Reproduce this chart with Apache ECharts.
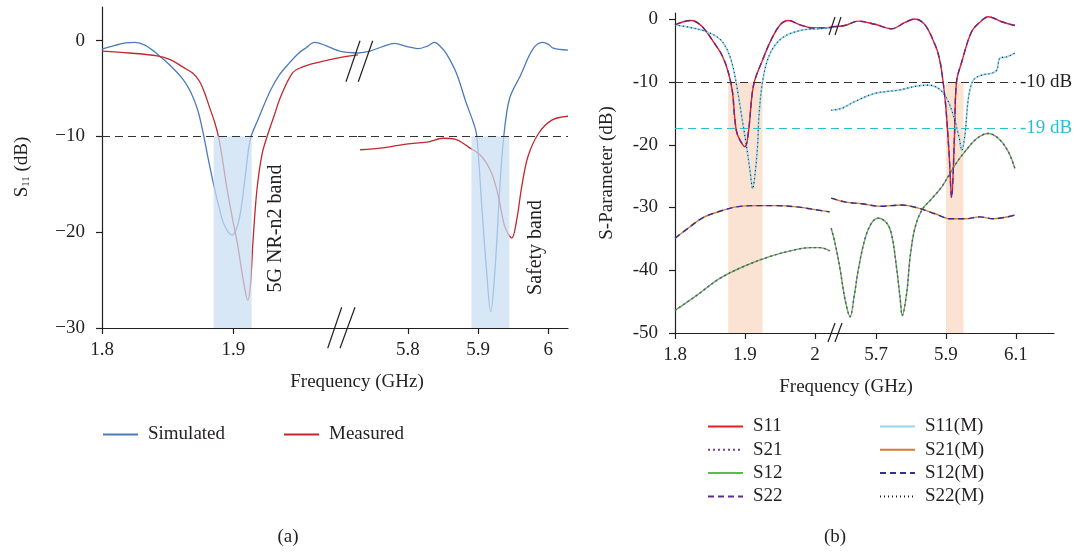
<!DOCTYPE html>
<html><head><meta charset="utf-8">
<script src="https://cdn.jsdelivr.net/npm/echarts@6/dist/echarts.min.js"></script>
<style>html,body{margin:0;padding:0;background:#fff}#c{width:1082px;height:552px}</style>
</head><body><div id="c"></div>
<script>
// ===== DATA (a): S11, x in GHz, y in dB =====
const simulatedLow = [[1.800,-0.9],[1.810,-0.5],[1.818,-0.25],[1.825,-0.2],[1.833,-0.5],[1.842,-1.4],[1.852,-2.6],[1.862,-4.1],[1.868,-5.5],[1.873,-7.3],[1.877,-9.6],[1.881,-12.4],[1.885,-15.0],[1.889,-17.3],[1.893,-19.2],[1.899,-20.3],[1.903,-19.4],[1.906,-17.5],[1.909,-14.3],[1.913,-10.3],[1.919,-8.2],[1.928,-5.3],[1.935,-3.6],[1.943,-2.3],[1.950,-1.3],[1.955,-0.8],[1.962,-0.2],[1.970,-0.5],[1.981,-1.1],[1.995,-1.3]];
const simulatedHigh = [[5.729,-1.3],[5.746,-1.1],[5.765,-0.6],[5.781,-0.3],[5.798,-0.6],[5.814,-0.85],[5.827,-0.6],[5.838,-0.2],[5.846,-0.6],[5.855,-1.4],[5.869,-3.4],[5.883,-6.5],[5.893,-8.5],[5.898,-9.9],[5.905,-17],[5.912,-24],[5.918,-28.3],[5.924,-24],[5.931,-15.2],[5.937,-9.7],[5.945,-6],[5.960,-3.7],[5.978,-0.9],[5.992,-0.2],[6.000,-0.4],[6.007,-0.8],[6.028,-1.0]];
const measuredLow = [[1.800,-1.1],[1.821,-1.3],[1.842,-1.6],[1.852,-2.0],[1.862,-2.8],[1.869,-3.4],[1.874,-4.2],[1.878,-5.4],[1.882,-7.0],[1.886,-8.6],[1.889,-10.2],[1.892,-12.6],[1.895,-15.3],[1.899,-18.3],[1.903,-21.1],[1.908,-25.3],[1.911,-27.1],[1.913,-25.6],[1.915,-21.0],[1.918,-15.6],[1.922,-11.8],[1.927,-9.5],[1.931,-7.9],[1.936,-5.9],[1.945,-3.4],[1.952,-2.8],[1.964,-2.3],[1.980,-1.8],[1.995,-1.5]];
const measuredHigh = [[5.732,-11.4],[5.764,-11.2],[5.798,-10.8],[5.827,-10.6],[5.850,-10.2],[5.867,-10.3],[5.886,-11.1],[5.905,-12.1],[5.919,-13.8],[5.929,-16.3],[5.938,-19.4],[5.948,-20.6],[5.955,-18.7],[5.962,-15.3],[5.971,-12.1],[5.986,-9.7],[6.005,-8.3],[6.028,-7.9]];
const bandsA = [[1.885,1.914],[5.8905,5.9446]];
const ticksA_low = [1.8,1.9];
const ticksA_high = [5.8,5.9,6.0];
const ticksA_y = [-30,-20,-10,0];

// ===== DATA (b): S-parameters =====
const s11Low = [[1.800,-0.9],[1.812,-0.4],[1.824,-0.2],[1.834,-0.7],[1.843,-1.7],[1.855,-3.6],[1.867,-5.7],[1.876,-8.4],[1.882,-11.5],[1.885,-15.3],[1.888,-17.9],[1.893,-19.3],[1.900,-20.3],[1.905,-17.9],[1.910,-12.1],[1.914,-9.7],[1.924,-6.8],[1.936,-3.6],[1.950,-0.9],[1.962,-0.2],[1.979,-0.9],[1.998,-1.4],[2.023,-1.3]];
const s11High = [[5.571,-1.2],[5.611,-1.0],[5.649,-0.3],[5.697,-0.8],[5.745,-1.5],[5.783,-0.5],[5.811,0.05],[5.840,-0.9],[5.869,-4.1],[5.880,-6.0],[5.888,-8.4],[5.899,-13.7],[5.909,-21.6],[5.916,-28.4],[5.924,-19],[5.930,-10],[5.945,-6.8],[5.973,-2.0],[6.000,-0.3],[6.021,0.4],[6.059,-0.4],[6.097,-1.0]];
const s11mLow = [[1.800,-0.9],[1.821,-1.3],[1.843,-1.9],[1.860,-2.8],[1.871,-4.1],[1.881,-6.8],[1.888,-10.5],[1.895,-15.3],[1.902,-20.1],[1.907,-24.0],[1.911,-27.0],[1.915,-24.0],[1.918,-20.1],[1.920,-15.3],[1.925,-10],[1.933,-6.2],[1.945,-3.8],[1.960,-2.5],[1.983,-1.7],[2.007,-1.5],[2.021,-1.4]];
const s11mHigh = [[5.572,-14.5],[5.602,-14.2],[5.640,-13.1],[5.697,-11.8],[5.764,-11.3],[5.811,-10.7],[5.849,-10.5],[5.878,-11.0],[5.902,-12.6],[5.921,-15.3],[5.938,-19.0],[5.945,-20.9],[5.954,-18.5],[5.964,-12.6],[5.978,-9.7],[6.002,-8.9],[6.031,-8.6],[6.045,-8.1],[6.054,-6.2],[6.073,-6.0],[6.097,-5.4]];
const s21mLow = [[1.800,-34.9],[1.821,-33.1],[1.840,-31.6],[1.864,-30.6],[1.888,-29.9],[1.917,-29.7],[1.945,-29.7],[1.974,-29.9],[1.998,-30.3],[2.021,-30.7]];
const s21mHigh = [[5.572,-28.5],[5.611,-29.1],[5.659,-29.4],[5.711,-29.8],[5.773,-29.6],[5.821,-30.1],[5.869,-31.0],[5.911,-31.8],[5.954,-31.8],[5.997,-31.5],[6.035,-31.8],[6.097,-31.2]];
const s12Low = [[1.800,-46.4],[1.831,-44.0],[1.864,-41.3],[1.898,-39.4],[1.936,-37.8],[1.969,-36.8],[1.993,-36.4],[2.007,-36.4],[2.021,-36.9]];
const s12High = [[5.572,-33.3],[5.583,-35.7],[5.597,-39.7],[5.611,-44.5],[5.626,-47.4],[5.638,-44.0],[5.650,-39.7],[5.669,-34.9],[5.688,-32.4],[5.707,-31.7],[5.731,-32.5],[5.745,-34.4],[5.759,-39.7],[5.769,-44.5],[5.775,-47.2],[5.788,-43.5],[5.797,-38.1],[5.811,-33.3],[5.831,-30.4],[5.859,-28.6],[5.888,-26.7],[5.926,-23.2],[5.954,-21.1],[5.988,-19.0],[6.021,-18.2],[6.050,-19.0],[6.078,-21.1],[6.097,-23.8]];
const bandsB = [[1.876,1.925],[5.900,5.950]];
const ticksB_low = [1.8,1.9,2.0];
const ticksB_high = [5.7,5.9,6.1];
const ticksB_y = [-50,-40,-30,-20,-10,0];
const refLevels = [-10,-17.4];
const refLabels = ['-10 dB','-19 dB'];
const refLineEnd = 6.1;

// ===== STYLE =====
const FONT = 'Liberation Serif';
const INK = '#231f20';
const FS = 19;

const chart = echarts.init(document.getElementById('c'), null, {renderer:'canvas'});

function xAx(gi, min, max, ticks){
  return {type:'value', gridIndex:gi, min, max,
    axisLine:{show:true, onZero:false, lineStyle:{color:INK, width:1.2}},
    axisTick:{show:true, customValues:ticks, length:6, lineStyle:{color:INK, width:1.2}},
    axisLabel:{show:true, customValues:ticks, margin:13, color:INK, fontSize:FS, fontFamily:FONT},
    splitLine:{show:false}};
}
function yAx(gi, min, max, ticks, show, fmt){
  return {type:'value', gridIndex:gi, min, max, show,
    axisLine:{show:true, onZero:false, lineStyle:{color:INK, width:1.2}},
    axisTick:{show:true, customValues:ticks, length:6, lineStyle:{color:INK, width:1.2}},
    axisLabel:{show:true, customValues:ticks, margin:17, color:INK, fontSize:FS, fontFamily:FONT, formatter:fmt},
    splitLine:{show:false}};
}
function ln(name, data, ai, color, width, type, z, extra){
  return Object.assign({type:'line', name, data, xAxisIndex:ai, yAxisIndex:ai, symbol:'none', showSymbol:false,
    smooth:0.35, lineStyle:{color, width, type}, itemStyle:{color}, z, silent:true, animation:false}, extra||{});
}

const dashBlack = {type:[8,5], color:'#333', width:1.2};
const CYAN = '#28bfd0';

const areaA = (b)=>({silent:true, itemStyle:{color:'rgba(200,222,243,0.72)'}, data:[[{xAxis:b[0], yAxis:-10},{xAxis:b[1], yAxis:-30}]]});
const areaB = (b)=>({silent:true, itemStyle:{color:'#fae3d2'}, data:[[{xAxis:b[0], yAxis:-10},{xAxis:b[1], yAxis:-50}]]});

const series = [
  // (a)
  ln('Simulated', simulatedLow, 0, '#4b7bbd', 1.3, 'solid', 0, {markArea:areaA(bandsA[0]), markLine:{symbol:'none', silent:true, lineStyle:dashBlack, label:{show:false}, data:[{yAxis:refLevels[0]}]}}),
  ln('Simulated', simulatedHigh, 1, '#4b7bbd', 1.3, 'solid', 0, {markArea:areaA(bandsA[1]), markLine:{symbol:'none', silent:true, lineStyle:dashBlack, label:{show:false}, data:[{yAxis:refLevels[0]}]}}),
  ln('Measured', measuredLow, 0, '#c1272d', 1.3, 'solid', 0),
  ln('Measured', measuredHigh, 1, '#c1272d', 1.3, 'solid', 0),
  // (b) left block
  ln('S11', s11Low, 2, '#ed1c24', 1.4, 'solid', 2, {markArea:areaB(bandsB[0]), markLine:{symbol:'none', silent:true, label:{show:false}, data:[{yAxis:refLevels[0], lineStyle:dashBlack},{yAxis:refLevels[1], lineStyle:{type:[8,5], color:CYAN, width:1.2}}]}}),
  ln('S11(M)', s11mLow, 2, '#93d6ee', 1.7, 'solid', 2),
  ln('S21(M)', s21mLow, 2, '#d47a36', 1.4, 'solid', 2),
  ln('S12', s12Low, 2, '#58bb4b', 1.4, 'solid', 2),
  ln('S22', s11Low, 2, '#5c2d91', 1.4, [6,4], 3),
  ln('S22(M)', s11mLow, 2, '#231f20', 1.1, [1,3], 3),
  ln('S12(M)', s21mLow, 2, '#2e3192', 1.4, [6,4], 3),
  ln('S21', s12Low, 2, '#7a3a9a', 1.4, [2,3], 3),
  // (b) right block
  ln('S11', s11High, 3, '#ed1c24', 1.4, 'solid', 2, {markArea:areaB(bandsB[1]), markLine:{symbol:'none', silent:true,
     data:[
       [{xAxis:5.5714, yAxis:refLevels[0], lineStyle:dashBlack, label:{show:true, position:'end', formatter:refLabels[0], color:INK, fontSize:FS, fontFamily:FONT, distance:4}},{xAxis:refLineEnd, yAxis:refLevels[0]}],
       [{xAxis:5.5714, yAxis:refLevels[1], lineStyle:{type:[8,5], color:CYAN, width:1.2}, label:{show:true, position:'end', formatter:refLabels[1], color:CYAN, fontSize:FS, fontFamily:FONT, distance:4}},{xAxis:refLineEnd, yAxis:refLevels[1]}]
     ]}}),
  ln('S11(M)', s11mHigh, 3, '#93d6ee', 1.7, 'solid', 2),
  ln('S21(M)', s21mHigh, 3, '#d47a36', 1.4, 'solid', 2),
  ln('S12', s12High, 3, '#58bb4b', 1.4, 'solid', 2),
  ln('S22', s11High, 3, '#5c2d91', 1.4, [6,4], 3),
  ln('S22(M)', s11mHigh, 3, '#231f20', 1.1, [1,3], 3),
  ln('S12(M)', s21mHigh, 3, '#2e3192', 1.4, [6,4], 3),
  ln('S21', s12High, 3, '#7a3a9a', 1.4, [2,3], 3)
];

const legBase = {padding:0, itemWidth:35, itemHeight:14, selectedMode:false,
  itemStyle:{opacity:0, borderWidth:0},
  textStyle:{fontSize:FS, fontFamily:FONT, color:INK, padding:[0,0,0,5], lineHeight:19}};

const minusFmt = v => String(v).replace('-', '\u2212');

const segs = [
  [346,81.7,360,40.7],[358.3,81.7,372.7,40.7],
  [327.7,348.3,341.7,307.3],[340,348.3,355,307.3],
  [829,35,835,17],[835,35,841,17],
  [828,342,835,323],[835,342,842,323]
];
const txt = (t, x, y, rot, extra) => ({type:'text', x, y, rotation:rot||0, z:100, silent:true,
  style:Object.assign({text:t, font:FS+'px "'+FONT+'"', fill:INK, align:'center', verticalAlign:'middle'}, extra||{})});

const graphic = [
  ...segs.map(s=>({type:'line', z:100, silent:true, shape:{x1:s[0],y1:s[1],x2:s[2],y2:s[3]}, style:{stroke:INK, lineWidth:1.2}})),
  txt('5G NR-n2 band', 275.5, 228.5, Math.PI/2, {font:'20px "'+FONT+'"'}),
  txt('Safety band', 535.5, 247.5, Math.PI/2, {font:'20px "'+FONT+'"'}),
  txt('Frequency (GHz)', 357, 382, 0),
  txt('Frequency (GHz)', 846, 387, 0),
  {type:'text', x:22, y:167, rotation:Math.PI/2, z:100, silent:true,
   style:{text:'S{s|11} (dB)', font:FS+'px "'+FONT+'"', fill:INK, align:'center', verticalAlign:'middle',
     rich:{s:{fontSize:11, fontFamily:FONT, fill:INK, padding:[9,0,0,0]}}}},
  txt('S-Parameter (dB)', 607, 173, Math.PI/2),
  txt('(a)', 288, 537, 0),
  txt('(b)', 835, 537, 0)
];

chart.setOption({
  animation:false,
  backgroundColor:'#fff',
  textStyle:{fontFamily:FONT},
  grid:[
    {left:102, top:7, width:256, height:321},
    {left:358, top:7, width:210, height:321},
    {left:675, top:13, width:156, height:320},
    {left:831, top:13, width:223, height:320}
  ],
  xAxis:[
    xAx(0, 1.8, 1.995, ticksA_low),
    xAx(1, 5.729, 6.028, ticksA_high),
    xAx(2, 1.8, 2.02286, ticksB_low),
    xAx(3, 5.5714, 6.2086, ticksB_high)
  ],
  yAxis:[
    yAx(0, -30, 3.5, ticksA_y, true, minusFmt),
    yAx(1, -30, 3.5, ticksA_y, false),
    yAx(2, -50, 1, ticksB_y, true),
    yAx(3, -50, 1, ticksB_y, false)
  ],
  legend:[
    Object.assign({data:['Simulated'], left:102, top:425}, legBase),
    Object.assign({data:['Measured'], left:283, top:425}, legBase),
    Object.assign({data:['S11','S21','S12','S22'], orient:'vertical', left:707, top:417, itemGap:4.3}, legBase),
    Object.assign({data:['S11(M)','S21(M)','S12(M)','S22(M)'], orient:'vertical', left:879, top:417, itemGap:4.3}, legBase)
  ],
  series,
  graphic
});
</script>
</body></html>
